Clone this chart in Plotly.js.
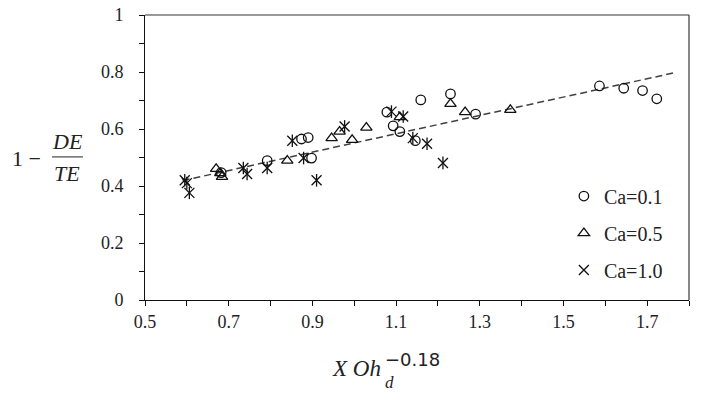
<!DOCTYPE html>
<html>
<head>
<meta charset="utf-8">
<script src="https://cdn.plot.ly/plotly-3.0.1.min.js"></script>
<style>
  body { margin: 0; background: #fff; }
  #chart { width: 707px; height: 397px; }
</style>
</head>
<body>
<div id="chart"></div>
<script>
// Ca = 0.1 (circles)
var ca01X = [0.682, 0.792, 0.874, 0.890, 0.898, 1.078, 1.093, 1.109, 1.146, 1.159, 1.230, 1.290, 1.586, 1.644, 1.689, 1.723];
var ca01Y = [0.447, 0.489, 0.565, 0.570, 0.498, 0.659, 0.611, 0.591, 0.559, 0.702, 0.723, 0.652, 0.751, 0.743, 0.735, 0.706];

// Ca = 0.5 (triangles)
var ca05X = [0.670, 0.680, 0.684, 0.840, 0.946, 0.965, 0.995, 1.029, 1.109, 1.230, 1.265, 1.373];
var ca05Y = [0.460, 0.445, 0.432, 0.489, 0.568, 0.591, 0.562, 0.605, 0.642, 0.688, 0.659, 0.667];

// Ca = 1.0 (stars)
var ca10X = [0.595, 0.600, 0.606, 0.735, 0.744, 0.792, 0.852, 0.879, 0.910, 0.977, 1.089, 1.117, 1.140, 1.174, 1.212];
var ca10Y = [0.420, 0.410, 0.376, 0.463, 0.442, 0.463, 0.559, 0.498, 0.420, 0.609, 0.661, 0.644, 0.568, 0.548, 0.481];

// dashed fit line end points
var fitX = [0.59, 1.77];
var fitY = [0.419, 0.799];

var xTickVals = [0.5, 0.6, 0.7, 0.8, 0.9, 1.0, 1.1, 1.2, 1.3, 1.4, 1.5, 1.6, 1.7, 1.8];
var xTickText = ["0.5", "", "0.7", "", "0.9", "", "1.1", "", "1.3", "", "1.5", "", "1.7", ""];
var yTickVals = [0, 0.1, 0.2, 0.3, 0.4, 0.5, 0.6, 0.7, 0.8, 0.9, 1];
var yTickText = ["0", "", "0.2", "", "0.4", "", "0.6", "", "0.8", "", "1"];

var serif = "Liberation Serif, Times New Roman, serif";

var traceFit = {
  type: "scatter",
  mode: "lines",
  x: fitX,
  y: fitY,
  showlegend: false,
  line: { color: "#404040", width: 1.5, dash: "7px,4px" },
};
var trace01 = {
  type: "scatter",
  mode: "markers",
  name: "Ca=0.1",
  legendgroup: "a",
  x: ca01X,
  y: ca01Y,
  marker: { symbol: "circle-open", size: 9.5, color: "#111", line: { width: 1.3 } },
};
var trace05 = {
  type: "scatter",
  mode: "markers",
  name: "Ca=0.5",
  legendgroup: "b",
  x: ca05X,
  y: ca05Y,
  marker: { symbol: "triangle-up-open", size: 10, color: "#111", line: { width: 1.3 } },
};
var trace10 = {
  type: "scatter",
  mode: "markers",
  name: "Ca=1.0",
  legendgroup: "c",
  x: ca10X,
  y: ca10Y,
  marker: { symbol: "x-thin-open", size: 10, color: "#111", line: { width: 1.3 } },
};
var trace10v = {
  type: "scatter",
  mode: "markers",
  legendgroup: "c",
  showlegend: false,
  x: ca10X,
  y: ca10Y,
  marker: { symbol: "line-ns-open", size: 9, color: "#111", line: { width: 1.3 } },
};

var layout = {
  width: 707,
  height: 397,
  margin: { l: 145, r: 18, t: 15, b: 97 },
  paper_bgcolor: "#fff",
  plot_bgcolor: "#fff",
  font: { family: serif, color: "#222" },
  xaxis: {
    range: [0.5, 1.8],
    tickvals: xTickVals,
    ticktext: xTickText,
    ticks: "outside",
    ticklen: 5,
    tickcolor: "#111",
    showline: true,
    linecolor: "#111",
    showgrid: false,
    zeroline: false,
    tickfont: { family: serif, size: 18, color: "#222" },
  },
  yaxis: {
    range: [0, 1],
    tickvals: yTickVals,
    ticktext: yTickText,
    ticks: "outside",
    ticklen: 5,
    tickcolor: "#111",
    showline: true,
    linecolor: "#111",
    showgrid: false,
    zeroline: false,
    ticklabelstandoff: 12,
    tickfont: { family: serif, size: 18, color: "#222" },
  },
  legend: {
    x: 0.77,
    y: 0.235,
    xanchor: "left",
    yanchor: "middle",
    bgcolor: "rgba(0,0,0,0)",
    itemwidth: 30,
    traceorder: "grouped",
    tracegroupgap: 8,
    font: { family: serif, size: 20, color: "#222" },
  },
  shapes: [
    { type: "line", xref: "paper", yref: "paper", x0: 0, x1: 1, y0: 1, y1: 1, line: { color: "#777", width: 1.5 } },
    { type: "line", xref: "paper", yref: "paper", x0: 1, x1: 1, y0: 0, y1: 1, line: { color: "#111", width: 1 } },
    { type: "line", xref: "paper", yref: "paper", x0: -0.171, x1: -0.114, y0: 0.502, y1: 0.502, line: { color: "#222", width: 1 } },
  ],
  annotations: [
    { xref: "paper", yref: "paper", x: -0.248, y: 0.498, xanchor: "left", yanchor: "middle", text: "1 \u2212", showarrow: false, font: { family: serif, size: 22, color: "#222" } },
    { xref: "paper", yref: "paper", x: -0.143, y: 0.556, xanchor: "center", yanchor: "middle", text: "<i>DE</i>", showarrow: false, font: { family: serif, size: 22, color: "#222" } },
    { xref: "paper", yref: "paper", x: -0.143, y: 0.443, xanchor: "center", yanchor: "middle", text: "<i>TE</i>", showarrow: false, font: { family: serif, size: 22, color: "#222" } },
    { xref: "paper", yref: "paper", x: 0.437, y: -0.24, xanchor: "right", yanchor: "middle", text: "<i>X Oh</i>", showarrow: false, font: { family: serif, size: 23, color: "#222" } },
    { xref: "paper", yref: "paper", x: 0.437, y: -0.29, xanchor: "left", yanchor: "middle", text: "<i>d</i>", showarrow: false, font: { family: serif, size: 17, color: "#222" } },
    { xref: "paper", yref: "paper", x: 0.437, y: -0.21, xanchor: "left", yanchor: "middle", text: "\u22120.18", showarrow: false, font: { family: "DejaVu Sans", size: 18, color: "#222" } },
  ],
};

var config = { staticPlot: true, displayModeBar: false };

Plotly.newPlot("chart", [traceFit, trace01, trace05, trace10, trace10v], layout, config);
</script>
</body>
</html>
